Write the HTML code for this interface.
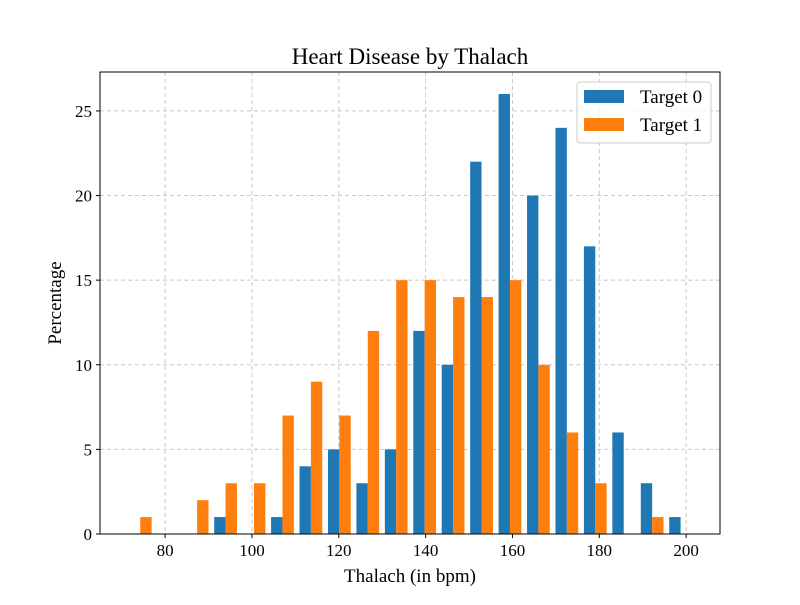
<!DOCTYPE html>
<html><head><meta charset="utf-8"><style>
body{margin:0;background:#fff}
svg{font-family:"Liberation Serif",serif}
</style></head><body>
<svg id="chart" width="800" height="600">
<rect width="800" height="600" fill="#fff"/>
<g id="grid"></g><g id="bars"></g><g id="ticks"></g>
<rect x="100" y="72" width="620" height="462" fill="none" stroke="#000" stroke-width="1"/>
<text x="410" y="64" text-anchor="middle" font-size="23">Heart Disease by Thalach</text>
<text x="410" y="582" text-anchor="middle" font-size="19">Thalach (in bpm)</text>
<text transform="translate(61,303) rotate(-90)" text-anchor="middle" font-size="19">Percentage</text>
<g>
<rect x="577" y="82" width="134" height="61" rx="3" fill="#fff" fill-opacity="0.8" stroke="#ccc"/>
<rect x="584" y="90" width="40" height="13" fill="#1f77b4"/>
<text x="640" y="103" font-size="19">Target 0</text>
<rect x="584" y="118" width="40" height="13" fill="#ff7f0e"/>
<text x="640" y="131" font-size="19">Target 1</text>
</g>
</svg>
<script>
const binStart = 71;
const binWidth = 6.55;
const target0 = [0,0,0,1,0,1,4,5,3,5,12,10,22,26,20,24,17,6,3,1];
const target1 = [1,0,2,3,3,7,9,7,12,15,15,14,14,15,10,6,3,0,1,0];
const xTicks = [80,100,120,140,160,180,200];
const yTicks = [0,5,10,15,20,25];
const NS="http://www.w3.org/2000/svg";
const X0=100,X1=720,Y0=534,Y1=72,xmin=65,xmax=207.8,ymax=27.3;
const sx=v=>X0+(v-xmin)/(xmax-xmin)*(X1-X0);
const sy=v=>Y0-v/ymax*(Y0-Y1);
function mk(tag,attrs,parent){const e=document.createElementNS(NS,tag);for(const k in attrs)e.setAttribute(k,attrs[k]);document.getElementById(parent).appendChild(e);return e;}
xTicks.forEach(t=>{
  const g=mk('line',{x1:sx(t),x2:sx(t),y1:Y1,y2:Y0,stroke:'#b0b0b0','stroke-dasharray':'4,3','stroke-opacity':0.7},'grid');
  
  
  const tk=mk('line',{x1:sx(t),x2:sx(t),y1:Y0,y2:Y0+4,stroke:'#000'},'ticks');
  
  
  const tl=mk('text',{x:sx(t),y:Y0+22,'text-anchor':'middle','font-size':17},'ticks');tl.textContent=t;
  
  
});
yTicks.forEach(t=>{
  const g=mk('line',{x1:X0,x2:X1,y1:sy(t),y2:sy(t),stroke:'#b0b0b0','stroke-dasharray':'4,3','stroke-opacity':0.7},'grid');
  
  
  const tk=mk('line',{x1:X0-4,x2:X0,y1:sy(t),y2:sy(t),stroke:'#000'},'ticks');
  
  
  const tl=mk('text',{x:X0-8,y:sy(t)+6,'text-anchor':'end','font-size':17},'ticks');tl.textContent=t;
  
  
});
[[target0,'#1f77b4',0,'bar-target-0'],[target1,'#ff7f0e',1,'bar-target-1']].forEach(([arr,col,k,name])=>{
  arr.forEach((v,i)=>{
    if(v<=0)return;
    const left=binStart+i*binWidth+0.1*binWidth+k*0.4*binWidth;
    const x=sx(left),w=sx(left+0.4*binWidth)-x;
    const r=mk('rect',{x:x,y:sy(v),width:w,height:Y0-sy(v),fill:col},'bars');
    
    
  });
});
</script>
</body></html>
